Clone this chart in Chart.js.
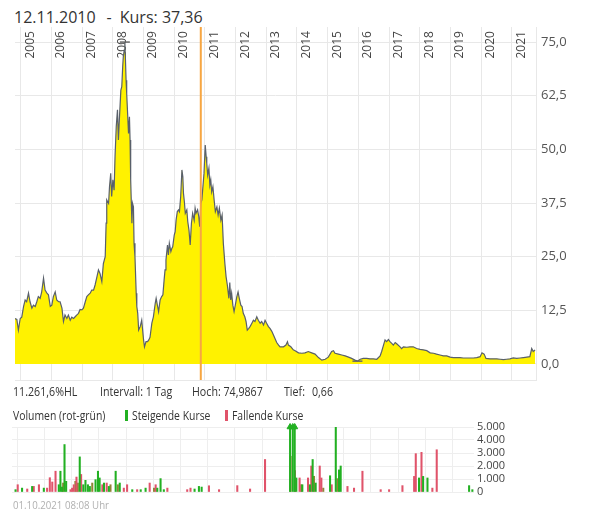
<!DOCTYPE html>
<html>
<head>
  <title>Kursverlauf</title>
  <style>
    body {
      margin: 0;
      padding: 0;
      background-color: #fff;
      font-family: "Open Sans", sans-serif;
      color: #333;
    }

    #page {
      position: relative;
      width: 590px;
      height: 514px;
      overflow: hidden;
    }

    .txt {
      position: absolute;
      white-space: nowrap;
      line-height: 1;
      transform-origin: 0 0;
    }

    #title {
      left: 14px;
      top: 8.5px;
      font-size: 16px;
      color: #333;
    }

    .info {
      top: 384.5px;
      font-size: 13px;
      transform: scaleX(0.82);
    }

    .legend {
      top: 408.5px;
      font-size: 13px;
      transform: scaleX(0.8);
    }

    .mark {
      position: absolute;
      top: 410px;
      width: 3px;
      height: 10.5px;
    }

    #footer {
      left: 13px;
      top: 498.5px;
      font-size: 11px;
      color: #b0b0b0;
      transform: scaleX(0.88);
    }

    #kursChart {
      position: absolute;
      left: 0;
      top: 0;
    }

    #volChart {
      position: absolute;
      left: 0;
      top: 420px;
    }
  </style>
</head>
<body>
  <div id="page">
    <div id="title" class="txt"><span>12.11.2010</span><span style="margin:0 8px 0 11px">-</span><span>Kurs: 37,36</span></div>

    <canvas id="kursChart" width="590" height="390"></canvas>

    <div class="txt info" style="left:13px">11.261,6%HL</div>
    <div class="txt info" style="left:100px">Intervall: 1 Tag</div>
    <div class="txt info" style="left:192px">Hoch: 74,9867</div>
    <div class="txt info" style="left:284px">Tief:</div>
    <div class="txt info" style="left:312px">0,66</div>

    <div class="txt legend" style="left:13px">Volumen (rot-grün)</div>
    <div class="mark" style="left:125px; background:#22b022"></div>
    <div class="txt legend" style="left:132px">Steigende Kurse</div>
    <div class="mark" style="left:225px; background:#e0536a"></div>
    <div class="txt legend" style="left:232px">Fallende Kurse</div>

    <canvas id="volChart" width="590" height="80"></canvas>

    <div id="footer" class="txt">01.10.2021 08:08 Uhr</div>
  </div>

  <script src="https://cdn.jsdelivr.net/npm/chart.js"></script>
  <script>
    // x axis is in fractional years (no date adapter available)
    const xMin = 2004.81;
    const xMax = 2021.79;
    const years = [2005, 2006, 2007, 2008, 2009, 2010, 2011, 2012, 2013, 2014, 2015, 2016, 2017, 2018, 2019, 2020, 2021];

    const yMin = -3.73;
    const yMax = 78.5;
    const kursTicks = [0, 12.5, 25, 37.5, 50, 62.5, 75];

    const cursorDate = 2010.865; // 12.11.2010
    const cursorKurs = 37.36;

    // Hoch / Tief markers
    const extremes = [[2008.39, 74.99], [2015.97, 0.66]];

    // [year, kurs]
    const kurs = [
      [2004.81, 10.6], [2004.87, 10.4], [2004.92, 7.9], [2004.98, 10.6], [2005.03, 10.9],
      [2005.09, 13.4], [2005.14, 14.9], [2005.19, 14.5], [2005.25, 16.5], [2005.30, 14.5],
      [2005.36, 13.0], [2005.41, 13.7], [2005.47, 13.4], [2005.52, 14.5], [2005.57, 15.7],
      [2005.63, 15.3], [2005.68, 16.8], [2005.74, 20.0], [2005.79, 17.2], [2005.85, 16.5],
      [2005.90, 16.1], [2005.96, 13.4], [2006.01, 13.7], [2006.06, 15.7], [2006.12, 16.8],
      [2006.17, 14.9], [2006.23, 14.5], [2006.28, 14.5], [2006.34, 13.0], [2006.39, 9.9],
      [2006.44, 11.4], [2006.50, 10.6], [2006.55, 11.4], [2006.61, 10.2], [2006.66, 10.9],
      [2006.72, 10.6], [2006.77, 11.0], [2006.82, 11.4], [2006.88, 11.8], [2006.93, 12.7],
      [2006.99, 12.6], [2007.04, 13.0], [2007.10, 14.5], [2007.15, 15.7], [2007.20, 16.1],
      [2007.26, 16.5], [2007.31, 17.2], [2007.37, 17.2], [2007.42, 18.4], [2007.48, 20.3],
      [2007.53, 21.9], [2007.58, 21.1], [2007.64, 19.2], [2007.69, 23.4], [2007.75, 25.0],
      [2007.78, 32.8], [2007.80, 38.2], [2007.86, 37.4], [2007.89, 41.3], [2007.93, 44.4],
      [2007.96, 39.0], [2008.00, 42.9], [2008.04, 40.5], [2008.07, 48.3], [2008.11, 55.3],
      [2008.15, 59.2], [2008.18, 52.2], [2008.21, 56.8], [2008.26, 63.8], [2008.29, 64.6],
      [2008.32, 69.3], [2008.34, 71.6], [2008.37, 73.1], [2008.39, 74.99], [2008.41, 70.8],
      [2008.43, 66.1], [2008.45, 63.0], [2008.47, 59.9], [2008.51, 53.7], [2008.54, 57.6],
      [2008.56, 52.2], [2008.58, 42.9], [2008.62, 32.8], [2008.64, 37.4], [2008.67, 36.6],
      [2008.69, 28.1], [2008.72, 25.0], [2008.76, 16.5], [2008.78, 13.4], [2008.81, 11.8],
      [2008.84, 7.9], [2008.89, 8.7], [2008.94, 10.2], [2009.00, 5.6], [2009.03, 4.0],
      [2009.08, 5.2], [2009.13, 5.2], [2009.17, 5.6], [2009.21, 6.2], [2009.27, 9.5],
      [2009.32, 11.0], [2009.38, 14.1], [2009.41, 15.3], [2009.45, 13.7], [2009.49, 12.2],
      [2009.54, 14.9], [2009.59, 15.7], [2009.63, 16.1], [2009.67, 19.6], [2009.70, 21.9],
      [2009.73, 24.2], [2009.78, 27.7], [2009.81, 25.4], [2009.84, 28.1], [2009.89, 26.2],
      [2009.92, 26.9], [2009.95, 27.3], [2010.00, 30.0], [2010.03, 30.8], [2010.06, 33.5],
      [2010.10, 35.5], [2010.14, 35.9], [2010.17, 35.5], [2010.21, 39.0], [2010.25, 45.2],
      [2010.28, 43.6], [2010.30, 39.8], [2010.33, 37.8], [2010.36, 35.1], [2010.41, 35.9],
      [2010.44, 33.2], [2010.48, 31.2], [2010.52, 27.7], [2010.56, 32.8], [2010.60, 35.1],
      [2010.65, 33.5], [2010.68, 36.3], [2010.71, 35.1], [2010.76, 35.9], [2010.80, 34.3],
      [2010.83, 32.0], [2010.865, 37.36], [2010.90, 38.2], [2010.93, 40.9], [2010.97, 44.4],
      [2011.01, 51.0], [2011.04, 48.3], [2011.06, 46.7], [2011.09, 44.0], [2011.13, 45.6],
      [2011.16, 41.7], [2011.19, 42.9], [2011.22, 40.1], [2011.26, 41.3], [2011.30, 38.2],
      [2011.34, 35.5], [2011.39, 36.6], [2011.43, 34.7], [2011.47, 36.3], [2011.52, 33.5],
      [2011.56, 34.7], [2011.60, 28.1], [2011.65, 23.4], [2011.69, 20.3], [2011.73, 18.4],
      [2011.78, 15.3], [2011.81, 19.0], [2011.84, 14.9], [2011.87, 16.5], [2011.91, 13.7],
      [2011.95, 12.2], [2011.99, 13.7], [2012.04, 15.7], [2012.08, 16.8], [2012.12, 15.3],
      [2012.17, 13.7], [2012.21, 13.4], [2012.25, 11.8], [2012.30, 11.0], [2012.34, 9.9],
      [2012.38, 7.9], [2012.43, 8.3], [2012.47, 8.7], [2012.53, 9.5], [2012.58, 10.2],
      [2012.63, 9.9], [2012.69, 11.0], [2012.74, 10.2], [2012.80, 9.5], [2012.85, 9.9],
      [2012.91, 9.1], [2012.96, 10.2], [2013.01, 9.5], [2013.07, 8.7], [2013.12, 8.3],
      [2013.18, 7.6], [2013.23, 6.8], [2013.29, 5.8], [2013.34, 5.0], [2013.40, 4.4],
      [2013.45, 4.0], [2013.56, 4.0], [2013.64, 4.4], [2013.69, 5.2], [2013.72, 4.4],
      [2013.80, 4.0], [2013.88, 3.3], [2013.94, 3.1], [2014.05, 2.6], [2014.16, 2.5],
      [2014.26, 2.6], [2014.37, 2.9], [2014.48, 2.6], [2014.59, 2.3], [2014.70, 1.5],
      [2014.81, 0.9], [2014.92, 1.1], [2015.02, 1.6], [2015.13, 2.9], [2015.19, 3.1],
      [2015.24, 2.5], [2015.35, 2.3], [2015.46, 2.1], [2015.57, 1.9], [2015.68, 1.6],
      [2015.78, 1.3], [2015.89, 0.9], [2015.97, 0.66], [2016.06, 1.1], [2016.16, 1.3],
      [2016.27, 1.3], [2016.38, 1.2], [2016.49, 1.2], [2016.60, 1.1], [2016.71, 1.9],
      [2016.76, 2.9], [2016.82, 4.4], [2016.87, 5.6], [2016.92, 5.2], [2016.98, 5.7],
      [2017.03, 5.2], [2017.09, 4.8], [2017.14, 4.4], [2017.20, 5.0], [2017.25, 4.7],
      [2017.36, 4.0], [2017.41, 3.6], [2017.47, 4.0], [2017.58, 3.9], [2017.68, 4.0],
      [2017.79, 4.0], [2017.90, 3.6], [2018.01, 3.4], [2018.12, 3.3], [2018.23, 3.1],
      [2018.34, 2.6], [2018.45, 2.5], [2018.55, 2.3], [2018.66, 2.1], [2018.77, 1.9],
      [2018.88, 1.9], [2018.99, 1.6], [2019.10, 1.5], [2019.21, 1.5], [2019.31, 1.5],
      [2019.42, 1.4], [2019.53, 1.4], [2019.64, 1.4], [2019.75, 1.4], [2019.86, 1.5],
      [2019.97, 1.7], [2020.03, 2.6], [2020.10, 2.3], [2020.16, 1.3], [2020.29, 1.2],
      [2020.40, 1.2], [2020.51, 1.2], [2020.62, 1.1], [2020.73, 1.0], [2020.83, 1.1],
      [2020.94, 1.2], [2021.05, 1.4], [2021.16, 1.3], [2021.27, 1.4], [2021.38, 1.5],
      [2021.49, 1.6], [2021.59, 1.7], [2021.65, 3.6], [2021.70, 2.9], [2021.76, 3.3]
    ];

    // volume bars [year, stueck]
    const volUp = [
      [2004.94, 180], [2005.18, 300], [2005.55, 430], [2005.98, 300], [2006.53, 560],
      [2006.59, 1600], [2006.65, 380], [2006.74, 3650], [2006.80, 820], [2007.30, 2700],
      [2007.43, 560], [2007.51, 900], [2007.60, 560], [2007.67, 430], [2007.88, 950],
      [2007.97, 1600], [2008.03, 1080], [2008.19, 690], [2008.37, 430], [2008.62, 1600],
      [2008.77, 690], [2009.23, 180], [2009.54, 180], [2009.72, 300], [2010.15, 300],
      [2010.27, 1030], [2010.39, 180], [2011.52, 230], [2011.68, 430], [2011.78, 380],
      [2015.03, 5000], [2015.13, 5000], [2015.20, 5000], [2015.26, 1080], [2015.48, 560],
      [2015.76, 560], [2015.86, 2500], [2015.97, 690], [2016.50, 1250], [2016.71, 5000],
      [2016.83, 1700], [2016.89, 2000], [2019.77, 1080], [2019.92, 1200], [2020.08, 1080],
      [2021.61, 490], [2021.73, 180]
    ];
    const volDown = [
      [2005.02, 560], [2005.37, 230], [2005.61, 430], [2005.80, 560], [2006.10, 300],
      [2006.20, 1100], [2006.29, 770], [2006.41, 1600], [2006.96, 180], [2007.02, 300],
      [2007.08, 560], [2007.18, 1150], [2007.35, 1350], [2008.13, 560], [2008.29, 690],
      [2008.92, 300], [2009.04, 560], [2009.41, 180], [2009.87, 690], [2010.09, 560],
      [2010.52, 300], [2011.25, 180], [2011.37, 300], [2012.05, 480], [2012.42, 180],
      [2013.09, 490], [2013.56, 230], [2014.11, 2500], [2015.21, 1650], [2015.38, 1080],
      [2015.69, 1080], [2015.81, 2000], [2016.12, 2000], [2016.18, 1080], [2016.56, 560],
      [2017.14, 430], [2017.38, 300], [2017.69, 1600], [2018.36, 180], [2018.67, 180],
      [2019.16, 490], [2019.59, 1200], [2019.65, 2950], [2019.86, 3050], [2020.26, 300],
      [2020.42, 3250]
    ];
    // days where green and red overlap
    const volMixed = [
      [2006.69, 690], [2007.14, 820], [2007.23, 690], [2007.76, 690], [2008.43, 560],
      [2008.70, 560], [2010.03, 300], [2015.05, 2750], [2015.44, 560], [2015.91, 1210],
      [2016.25, 300], [2016.77, 1030]
    ];
    // bars cut off above the axis
    const volOverflow = [2015.03, 2015.13, 2015.20];
    const volTicks = [0, 1000, 2000, 3000, 4000, 5000];

    Chart.defaults.font.family = "'Open Sans', sans-serif";

    const toXY = (list) => list.map(p => ({ x: p[0], y: p[1] }));
    const komma = (v) => v.toFixed(1).replace('.', ',');
    const tausender = (v) => String(v).replace(/\B(?=(\d{3})+(?!\d))/g, '.');

    const gridColor = '#e8e8e8';

    // axis takes no room; labels sit inside the plot
    const noRoom = (s) => {
      s.height = 0;
      s.paddingLeft = 0;
      s.paddingRight = 0;
      s.paddingTop = 0;
      s.paddingBottom = 0;
    };

    new Chart(document.getElementById('kursChart'), {
      type: 'line',
      data: {
        datasets: [
          {
            label: 'Cursor',
            data: [{ x: cursorDate, y: yMin }, { x: cursorDate, y: yMax }],
            borderColor: '#f7a642',
            borderWidth: 2,
            pointRadius: 0,
            order: 0
          },
          {
            label: 'Hoch/Tief',
            data: toXY(extremes),
            showLine: false,
            pointStyle: 'line',
            pointRadius: 5,
            pointBorderWidth: 1.5,
            borderColor: '#666',
            order: 1
          },
          {
            label: 'Kurs',
            data: toXY(kurs),
            borderColor: '#59606a',
            borderWidth: 1.2,
            backgroundColor: '#fff200',
            fill: 'origin',
            pointRadius: 0,
            tension: 0,
            order: 2
          }
        ]
      },
      options: {
        responsive: false,
        animation: false,
        layout: { padding: { left: 15, top: 27, right: 0, bottom: 10 } },
        plugins: {
          legend: { display: false },
          tooltip: { enabled: false }
        },
        scales: {
          x: {
            type: 'linear',
            position: 'top',
            min: xMin,
            max: xMax,
            afterBuildTicks: (s) => { s.ticks = years.map(v => ({ value: v })); },
            afterFit: noRoom,
            grid: { color: gridColor, drawTicks: false },
            border: { display: false },
            ticks: {
              // mirror keeps the labels unclipped inside the plot
              mirror: true,
              autoSkip: false,
              minRotation: 90,
              maxRotation: 90,
              padding: 31.5,
              labelOffset: 9.5,
              color: '#444',
              font: { size: 12 },
              callback: (v) => String(v)
            }
          },
          y: {
            position: 'right',
            min: yMin,
            max: yMax,
            afterBuildTicks: (s) => { s.ticks = [yMin].concat(kursTicks).map(v => ({ value: v })); },
            afterFit: (s) => { s.width = 54; s.paddingTop = 0; s.paddingBottom = 0; },
            grid: { color: gridColor, drawTicks: false },
            border: { color: gridColor },
            ticks: {
              padding: 5,
              color: '#555',
              font: { size: 13 },
              callback: (v) => kursTicks.includes(v) ? komma(v) : ''
            }
          }
        }
      }
    });

    new Chart(document.getElementById('volChart'), {
      type: 'bar',
      data: {
        datasets: [
          {
            label: 'Steigende Kurse',
            data: toXY(volUp),
            backgroundColor: '#22b022',
            barThickness: 1.4,
            grouped: false
          },
          {
            label: 'Fallende Kurse',
            data: toXY(volDown),
            backgroundColor: '#e0536a',
            barThickness: 1.4,
            grouped: false
          },
          {
            label: 'gemischt',
            data: toXY(volMixed),
            backgroundColor: '#8f8536',
            barThickness: 1.4,
            grouped: false
          },
          {
            type: 'scatter',
            label: 'abgeschnitten',
            data: volOverflow.map(x => ({ x: x, y: volTicks[volTicks.length - 1] })),
            pointStyle: 'triangle',
            pointRadius: 3.5,
            backgroundColor: '#22b022',
            borderColor: '#22b022',
            clip: false
          }
        ]
      },
      options: {
        responsive: false,
        animation: false,
        layout: { padding: { left: 12, top: 7, right: 0, bottom: 8 } },
        plugins: {
          legend: { display: false },
          tooltip: { enabled: false }
        },
        scales: {
          x: {
            type: 'linear',
            min: xMin,
            max: xMax,
            offset: false,
            afterBuildTicks: (s) => { s.ticks = years.map(v => ({ value: v })); },
            afterFit: noRoom,
            grid: { color: '#eeeeee', drawTicks: false, offset: false },
            border: { display: false },
            ticks: { display: false }
          },
          y: {
            position: 'right',
            min: 0,
            max: 5000,
            afterBuildTicks: (s) => { s.ticks = volTicks.map(v => ({ value: v })); },
            afterFit: (s) => { s.width = 116; s.paddingTop = 0; s.paddingBottom = 0; },
            grid: { color: '#eeeeee', drawTicks: false },
            border: { display: false },
            ticks: {
              autoSkip: false,
              padding: 3,
              color: '#444',
              font: { size: 11 },
              callback: (v) => tausender(v)
            }
          }
        }
      }
    });
  </script>
</body>
</html>
